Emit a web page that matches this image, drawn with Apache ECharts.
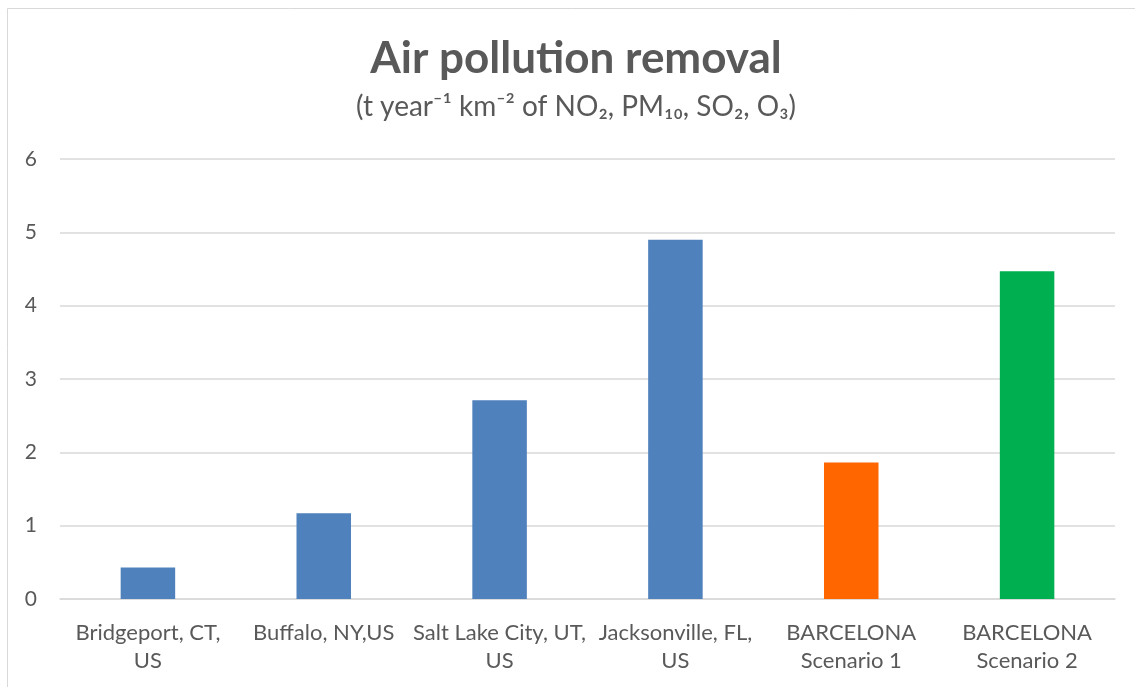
<!DOCTYPE html>
<html>
<head>
<meta charset="utf-8">
<script src="https://cdn.jsdelivr.net/npm/echarts@6/dist/echarts.min.js"></script>
<style>
  html, body { margin: 0; padding: 0; background: #fff; }
  #chart { width: 1135px; height: 687px; }
</style>
</head>
<body>
<div id="chart"></div>
<script>
const categories = [
  'Bridgeport, CT,\nUS',
  'Buffalo, NY,US',
  'Salt Lake City, UT,\nUS',
  'Jacksonville, FL,\nUS',
  'BARCELONA\nScenario 1',
  'BARCELONA\nScenario 2'
]
const removal = [0.43, 1.17, 2.71, 4.90, 1.86, 4.47]
const barColors = ['#4f81bd', '#4f81bd', '#4f81bd', '#4f81bd', '#ff6600', '#00b050']
const yTicks = { min: 0, max: 6, interval: 1 }

const font = 'Lato, "Noto Sans", "DejaVu Sans", sans-serif'

const myChart = echarts.init(document.getElementById('chart'))
const option = {
  backgroundColor: '#fff',
  animation: false,
  graphic: [
    {
      // chart frame, cut off on the right and bottom like the original
      type: 'rect',
      shape: { x: 7.5, y: 8.5, width: 1200, height: 800 },
      style: { fill: 'none', stroke: '#d9d9d9', lineWidth: 1 },
      silent: true
    },
    {
      type: 'text',
      x: 576,
      y: 37,
      style: {
        text: 'Air pollution removal',
        font: 'bold 44px ' + font,
        fill: '#595959',
        align: 'center'
      }
    },
    {
      type: 'text',
      x: 576,
      y: 93,
      style: {
        text: '(t year⁻¹ km⁻² of NO₂, PM₁₀, SO₂, O₃)',
        font: '28px ' + font,
        fill: '#595959',
        align: 'center'
      }
    }
  ],
  grid: { left: 60, right: 20, top: 159, bottom: 88 },
  xAxis: {
    type: 'category',
    data: categories,
    axisLine: { lineStyle: { color: '#d9d9d9', width: 1.5 } },
    axisTick: { show: false },
    axisLabel: {
      color: '#595959',
      fontSize: 22,
      fontFamily: font,
      lineHeight: 28,
      margin: 20,
      interval: 0
    }
  },
  yAxis: {
    type: 'value',
    min: yTicks.min,
    max: yTicks.max,
    interval: yTicks.interval,
    axisLine: { show: false },
    axisTick: { show: false },
    splitLine: { lineStyle: { color: '#d9d9d9', width: 1.5 } },
    axisLabel: {
      color: '#595959',
      fontSize: 21,
      fontFamily: font,
      margin: 23
    }
  },
  series: [
    {
      type: 'bar',
      barWidth: '31%',
      data: removal.map((v, i) => ({ value: v, itemStyle: { color: barColors[i] } }))
    }
  ]
}
myChart.setOption(option)
</script>
</body>
</html>
